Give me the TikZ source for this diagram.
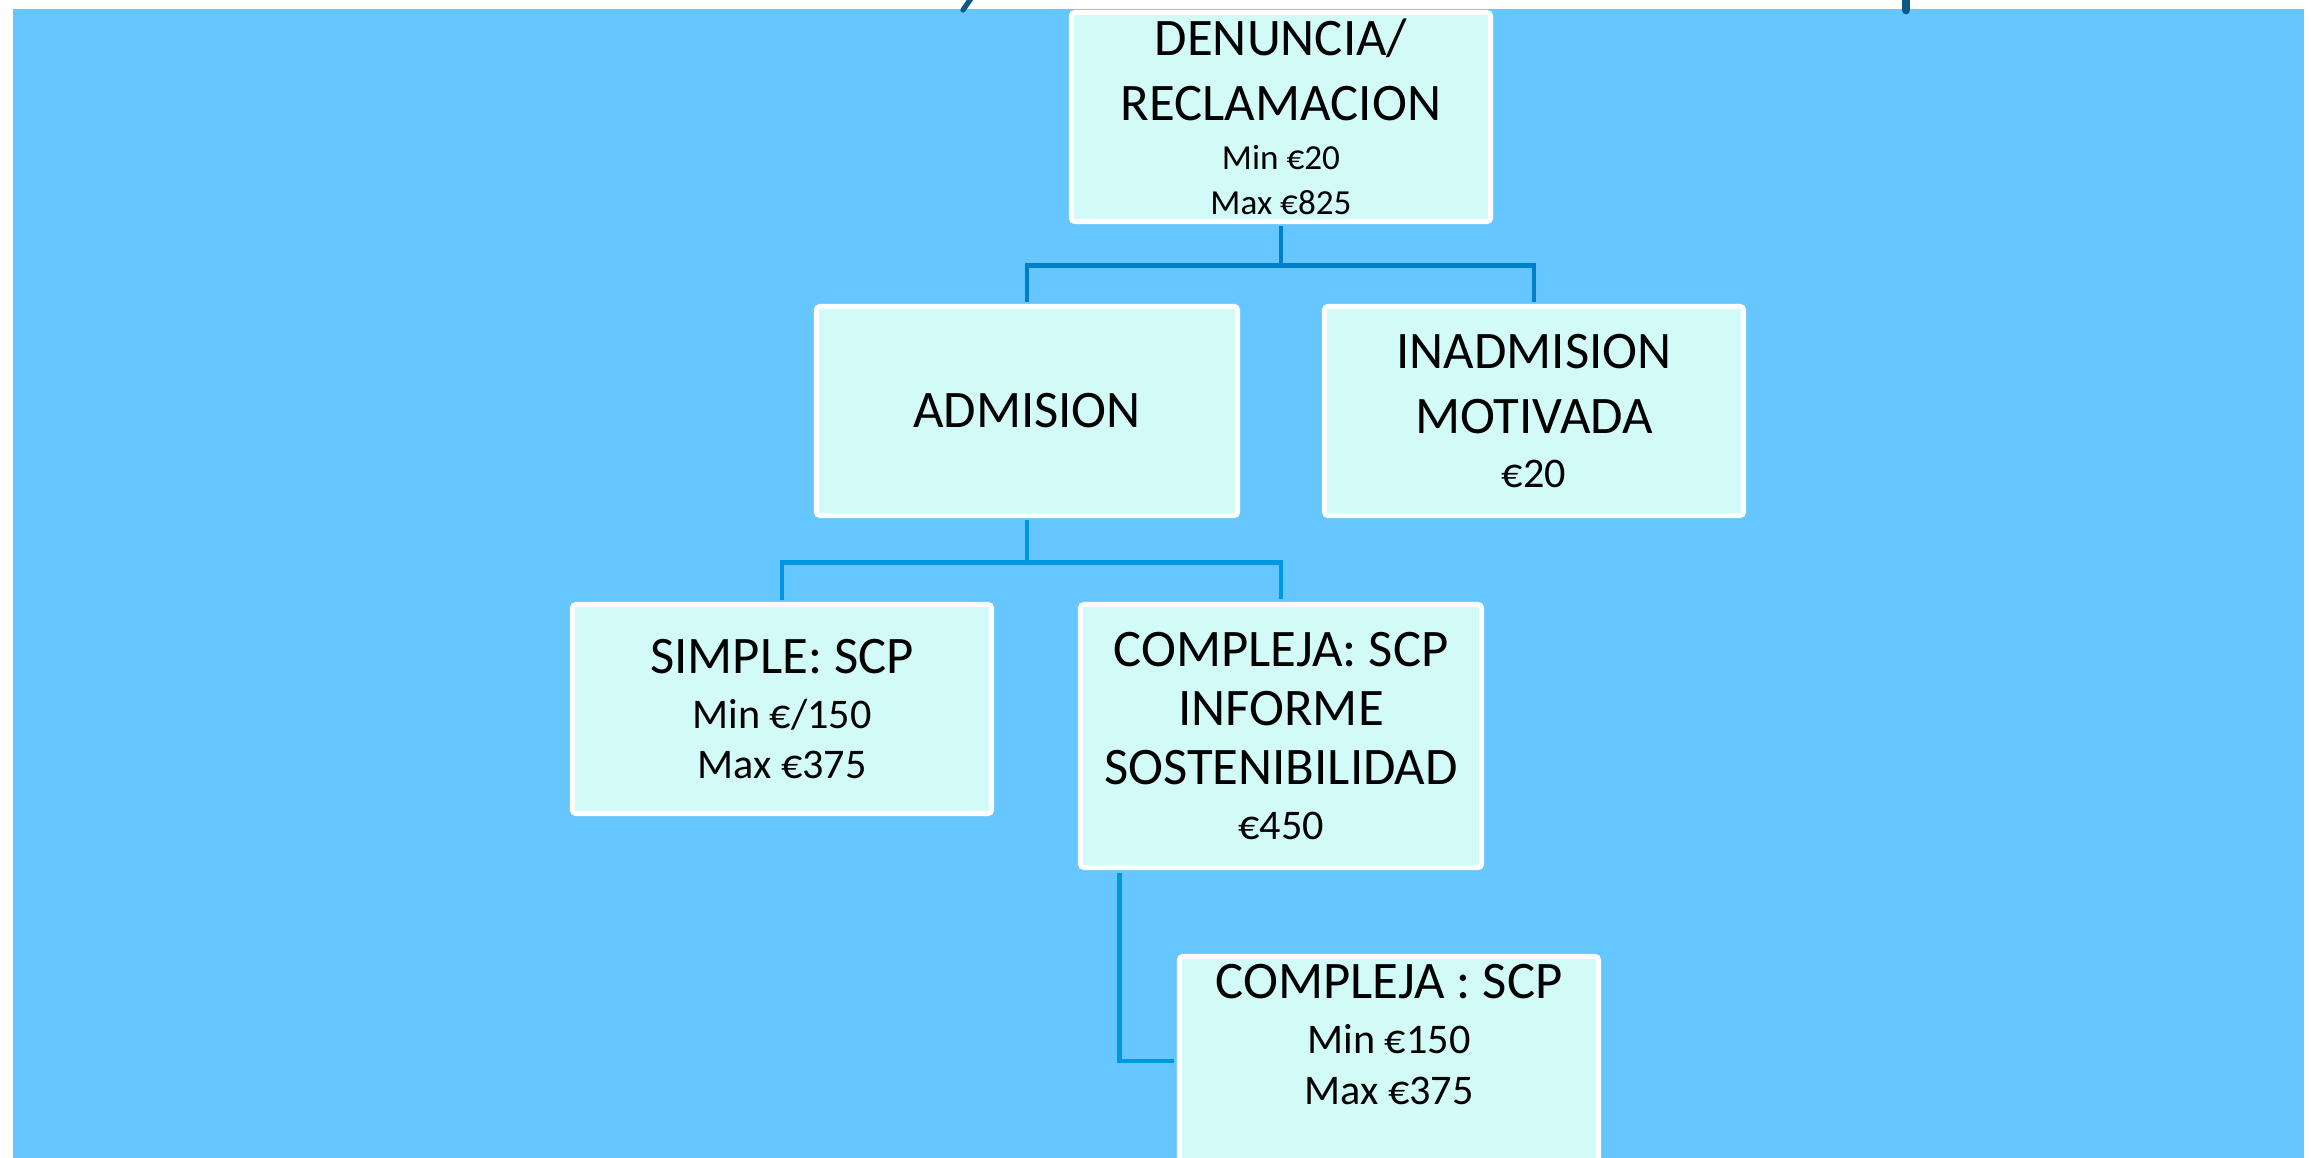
\documentclass[tikz,border=0pt]{standalone}
\usepackage{fontspec}
\setmainfont{Carlito}
\usetikzlibrary{positioning}

\definecolor{slideblue}{HTML}{66C6FF}
\definecolor{boxfill}{HTML}{D2FAF6}
\definecolor{linkdark}{HTML}{0080CC}
\definecolor{linkblue}{HTML}{0096E6}
\definecolor{titleblue}{HTML}{0B5A8C}

\newcommand{\bigtxt}[1][18.5]{\fontsize{15}{#1}\selectfont}
\newcommand{\smalltxt}{\fontsize{12}{14.8}\selectfont}
\newcommand{\tinytxt}{\fontsize{10}{13}\selectfont}

\begin{document}
\begin{tikzpicture}[x=0.01cm, y=-0.01cm,
		box/.style={draw=white, line width=1.4pt, fill=boxfill, rounded corners=1pt,
			minimum width=4.19cm, minimum height=2.09cm, align=center, inner sep=0pt, font=\bigtxt},
		link/.style={line width=1.4pt, linkblue, shorten <=0.7pt, shorten >=0.7pt},
	]
	\useasboundingbox (0,0) rectangle (2311,1158);
	\fill[slideblue] (13,9) rectangle (2304,1158);
	% bits of the title that show above the slide
	\draw[titleblue, line width=1.5pt, line cap=round] (963,10) -- (972,-3);
	\draw[titleblue, line width=2.5pt, line cap=round] (1906,10) -- (1906,-3);

	\node[box] (den) at (1281,117) {DENUNCIA/\\RECLAMACION\\[-4.6pt]\tinytxt Min €20\\[-5.7pt]\tinytxt Max €825};
	\node[box, minimum width=4.21cm] (adm) at (1027,411) {ADMISION};
	\node[box] (inad) at (1534,411) {INADMISION\\MOTIVADA\\[-3.4pt]\smalltxt €20};
	\node[box] (simp) at (782,709) {SIMPLE: SCP\\[-2.9pt]\smalltxt Min €/150\\[-4.5pt]\smalltxt Max €375};
	\node[box, minimum width=4.01cm, minimum height=2.63cm, font={\bigtxt[16.8]}] (comp) at (1281,736)
		{COMPLEJA: SCP\\INFORME\\SOSTENIBILIDAD\\[-1.2pt]\smalltxt €450};
	\node[box] (comp2) at (1389,1061) {};
	\node[align=center, inner sep=0pt, font=\bigtxt, below=0.1cm] (comp2txt) at (comp2.north)
		{COMPLEJA : SCP\\[-2.9pt]\smalltxt Min €150\\[-4pt]\smalltxt Max €375};

	\draw[link, linkdark] (den.south) -- ++(0,41.5) -| (adm.north);
	\draw[link, linkdark] (den.south) -- ++(0,41.5) -| (inad.north);
	\draw[link] (adm.south) -- ++(0,44.5) -| (simp.north);
	\draw[link] (adm.south) -- ++(0,44.5) -| (comp.north);
	\draw[link] ([xshift=-1.61cm]comp.south) |- (comp2.west);
\end{tikzpicture}
\end{document}
